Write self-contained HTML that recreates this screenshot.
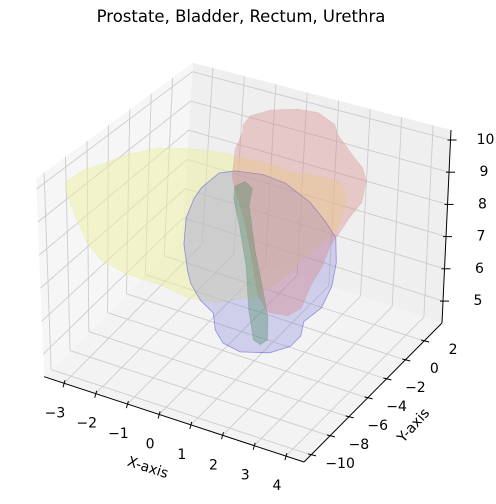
<!DOCTYPE html>
<html><head><meta charset="utf-8"><style>
body{margin:0;background:#fff;}
svg{display:block;font-family:"DejaVu Sans","Liberation Sans",sans-serif;}
</style></head><body>
<svg id="chart" width="496" height="504" viewBox="0 0 496 504" xmlns="http://www.w3.org/2000/svg">
<text x="241" y="22" font-size="16.5" text-anchor="middle" fill="#000">Prostate, Bladder, Rectum, Urethra</text>
<g id="panes"></g><g id="grid"></g><g id="shapes"></g><g id="axes"></g>
<text x="148" y="472" font-size="14" text-anchor="middle" transform="rotate(18 148 467)">X-axis</text>
<text x="413" y="430" font-size="14" text-anchor="middle" transform="rotate(-48 413 425)">Y-axis</text>
<text x="509" y="230" font-size="14" text-anchor="middle" transform="rotate(-90 509 230)">Z-axis</text>
</svg>
<script>
const xLim=[-3.63,4.57], yLim=[-10.75,3.9], zLim=[4.32,10.31];
const xTicks=[-3,-2,-1,0,1,2,3,4];
const yTicks=[-10,-8,-6,-4,-2,0,2];
const zTicks=[5,6,7,8,9,10];
const shapeY=-4;
const bladderX=[-4.97,-4.41,-3.87,-3.02,-2.07,-1.13,-0.18,0.32,1.40,2.12,3.07,3.61,3.79,3.64,3.48,3.07,2.44,1.90,0.96,-0.18,-1.13,-2.07,-3.02,-3.87,-4.28,-4.60,-4.91];
const bladderZ=[8.09,8.64,8.97,9.55,10.01,10.25,10.40,10.41,10.45,10.37,10.49,10.45,9.98,9.43,8.95,8.51,7.81,7.11,6.28,5.73,5.61,5.74,5.74,5.96,6.36,6.97,7.70];
const rectumX=[0.55,0.77,1.40,2.22,2.85,3.38,3.48,3.79,4.02,4.27,4.39,4.27,3.92,3.61,3.32,3.07,2.75,2.44,2.03,1.40,1.08,0.86,0.64,0.32,0.23,0.32,0.55];
const rectumZ=[11.41,11.76,12.09,12.32,12.37,12.14,11.86,11.53,11.29,11.06,10.70,10.04,9.53,8.99,8.50,7.80,7.17,6.36,6.01,5.93,6.32,7.49,8.47,9.39,9.76,10.63,11.23];
const prostateX=[-0.72,-0.18,0.32,1.18,1.90,2.66,3.16,3.48,3.51,3.38,3.07,2.53,2.44,2.12,1.49,0.55,0.01,-0.24,-0.31,-0.72,-1.03,-1.13,-1.25,-1.19,-0.94];
const prostateZ=[9.15,9.75,9.95,10.07,9.99,9.62,9.16,8.77,8.03,7.28,6.56,5.98,5.52,5.11,4.72,4.45,4.55,4.87,5.38,5.65,6.08,6.45,7.24,8.07,8.77];
const urethraX=[0.32,0.64,0.86,0.77,0.96,1.18,1.40,1.40,1.18,0.96,0.80,0.70,0.48,0.29];
const urethraZ=[9.48,9.71,9.56,9.01,7.74,6.79,5.80,5.09,4.87,4.95,5.83,7.13,8.30,9.07];

const NS="http://www.w3.org/2000/svg";
const [x0,x1]=xLim,[y0,y1]=yLim,[z0,z1]=zLim;
function P(x,y,z){
 const a=(x1-x)/(x1-x0), b=(y-y0)/(y1-y0), t=(z-z0)/(z1-z0);
 const bx=304+31.7*(x-4.57)+9.42*(y+10.75);
 const by=462+10.4*(x-4.57)-9.49*(y+10.75);
 const h=210*(1-a)*(1-b)+198*a*(1-b)+193*(1-a)*b+175*a*b;
 const dx=0*(1-a)*(1-b)-8*a*(1-b)+9*(1-a)*b+11*a*b;
 return [bx+dx*t, by-h*t];
}
function mk(tag,parent,attrs){const e=document.createElementNS(NS,tag);for(const k in attrs)e.setAttribute(k,attrs[k]);document.getElementById(parent).appendChild(e);return e;}
function pts(a){return a.map(p=>p[0].toFixed(1)+","+p[1].toFixed(1)).join(" ");}
let e;
e=mk('polygon','panes',{points:pts([P(x0,y0,z0),P(x0,y1,z0),P(x0,y1,z1),P(x0,y0,z1)]),fill:'#f6f6f6'});


e=mk('polygon','panes',{points:pts([P(x0,y1,z0),P(x1,y1,z0),P(x1,y1,z1),P(x0,y1,z1)]),fill:'#efefef'});


e=mk('polygon','panes',{points:pts([P(x0,y0,z0),P(x1,y0,z0),P(x1,y1,z0),P(x0,y1,z0)]),fill:'#f3f3f3'});


function gl(a,b){return mk('polyline','grid',{points:pts([a,b]),stroke:'#cccccc','stroke-width':0.9,fill:'none'});}
xTicks.forEach(t=>{let l=gl(P(t,y0,z0),P(t,y1,z0));
 l=gl(P(t,y1,z0),P(t,y1,z1));});
yTicks.forEach(t=>{let l=gl(P(x0,t,z0),P(x1,t,z0));
 l=gl(P(x0,t,z0),P(x0,t,z1));});
zTicks.forEach(t=>{let l=gl(P(x0,y0,t),P(x0,y1,t));
 l=gl(P(x0,y1,t),P(x1,y1,t));});
function shape(xs,zs,fill,stroke,name){
 const s=mk('polygon','shapes',{points:pts(xs.map((x,i)=>P(x,shapeY,zs[i]))),fill:fill,stroke:stroke,'stroke-width':0.8,'stroke-linejoin':'round'});
 
 
}
shape(bladderX,bladderZ,'rgba(240,240,160,0.5)','rgba(230,230,160,0.4)','bladder-surface');
shape(prostateX,prostateZ,'rgba(125,125,220,0.3)','rgba(60,60,220,0.5)','prostate-surface');
shape(rectumX,rectumZ,'rgba(215,120,120,0.33)','rgba(215,150,150,0.3)','rectum-surface');
shape(urethraX,urethraZ,'rgba(80,140,100,0.38)','rgba(80,140,100,0.3)','urethra-surface');
function line(a,b,name){const l=mk('polyline','axes',{points:pts([a,b]),stroke:'#000','stroke-width':1,fill:'none'});}
line(P(x0,y0,z0),P(x1,y0,z0),'x-axis-line');
line(P(x1,y0,z0),P(x1,y1,z0),'y-axis-line');
line(P(x1,y1,z0),P(x1,y1,z1),'z-axis-line');
function label(p,txt,name){const t=mk('text','axes',{x:p[0].toFixed(1),y:p[1].toFixed(1),'font-size':14,'text-anchor':'middle','dominant-baseline':'middle'});t.textContent=txt;}
const fmt=v=>v<0?'\u2212'+Math.abs(v):String(v);
xTicks.forEach(t=>{const p=P(t,y0,z0);line([p[0]+1,p[1]-3],[p[0]-1,p[1]+4],'x-tick');label([p[0]-9,p[1]+30],fmt(t),'x-tick-label');});
yTicks.forEach(t=>{const p=P(x1,t,z0);line([p[0]-3,p[1]-1],[p[0]+5,p[1]+1],'y-tick');label([p[0]+29,p[1]+9],fmt(t),'y-tick-label');});
zTicks.forEach(t=>{const p=P(x1,y1,t);line([p[0]-3,p[1]],[p[0]+6,p[1]],'z-tick');label([p[0]+35,p[1]],fmt(t),'z-tick-label');});
</script>
</body></html>
